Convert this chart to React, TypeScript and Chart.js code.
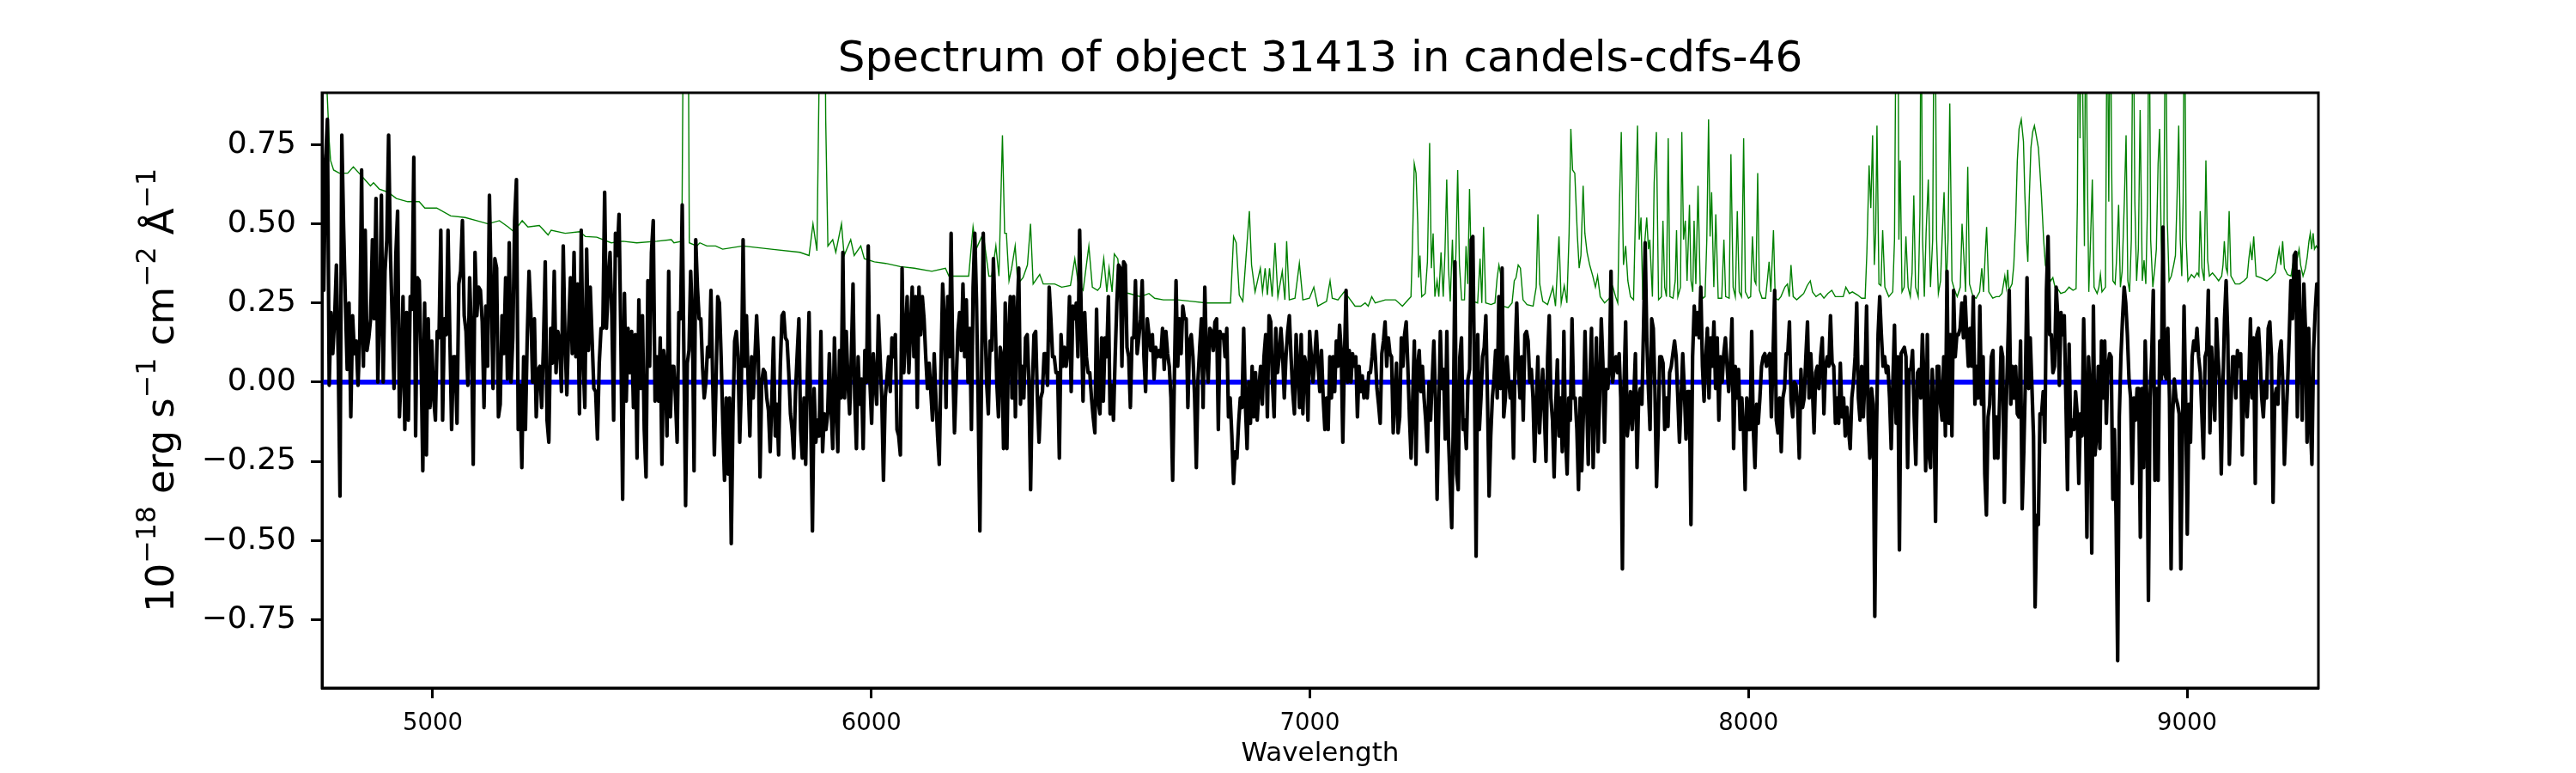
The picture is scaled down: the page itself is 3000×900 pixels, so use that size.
import React, { useEffect, useRef } from "react";
import { Chart, registerables } from "chart.js";

Chart.register(...registerables);

// ---------- text ----------
const TITLE = "Spectrum of object 31413 in candels-cdfs-46";
const X_LABEL = "Wavelength";
// [text, isSuperscript]
const Y_LABEL_PARTS: [string, boolean][] = [
  ["10", false], ["\u221218", true], [" erg s", false], ["\u22121", true],
  [" cm", false], ["\u22122", true], [" \u00C5", false], ["\u22121", true],
];

// ---------- axes ----------
const X_MIN = 4747.5;
const X_MAX = 9299.5;
const Y_MIN = -0.966;
const Y_MAX = 0.914;
const X_TICKS = [5000, 6000, 7000, 8000, 9000];
const Y_TICKS = [-0.75, -0.5, -0.25, 0, 0.25, 0.5, 0.75];

// ---------- observed flux (black), uniformly sampled within each wavelength segment ----------
const SEGMENT_EDGES = [4747.5, 5511, 6274.5, 7038, 7801.5, 8565, 9299.5];

const FLUX_1 = [
  0.72, 0.29, 0.70, 0.83, -0.01, 0.22, 0.09, 0.20, 0.37, 0.08,
  -0.36, 0.78, 0.49, 0.25, 0.04, 0.25, -0.11, 0.21, 0.09, 0.13,
  -0.01, 0.14, 0.67, 0.05, 0.48, 0.10, 0.14, 0.20, 0.45, 0.20,
  0.58, 0.00, 0.20, 0.59, 0.00, 0.35, 0.45, 0.78, 0.41, 0.20,
  -0.02, 0.40, 0.54, -0.11, 0.03, 0.27, -0.15, 0.22, -0.12, 0.27,
  0.23, 0.71, -0.17, 0.33, 0.32, 0.08, -0.28, 0.25, -0.23, 0.20,
  -0.08, 0.13, -0.05, -0.12, 0.16, 0.14, 0.48, -0.12, 0.20, 0.15,
  0.48, 0.15, -0.15, 0.08, 0.08, -0.13, 0.31, 0.35, 0.51, 0.21,
  0.16, -0.01, 0.33, 0.15, -0.26, 0.41, 0.21, 0.30, 0.29, 0.19,
  -0.08, 0.24, 0.05, 0.59, 0.30, -0.02, 0.39, 0.36, -0.11, -0.07,
  0.21, 0.09, 0.33, 0.01, 0.44, 0.00, 0.14, 0.51, 0.64, -0.15,
  -0.01, -0.27, 0.08, -0.15, 0.14, 0.35, 0.22, 0.00, 0.20, -0.11,
  0.04, 0.05, -0.08, 0.11, 0.38, -0.12, -0.19, 0.17, 0.06, 0.35,
  0.03, 0.16, 0.13, -0.03, 0.43, 0.13, -0.04, 0.17, 0.33, 0.09,
  0.41, 0.08, 0.31, -0.10, 0.48, 0.08, -0.08, 0.42, 0.10, 0.30,
  0.14, -0.02, -0.03, -0.18, 0.06, 0.17, 0.17, 0.60, 0.17, 0.31,
  0.41, 0.21, -0.12, 0.47, 0.40, 0.53, 0.14, -0.37, 0.28, -0.06,
  0.17, 0.03, 0.16, -0.08, 0.15, -0.24, 0.26, -0.02, 0.21, -0.15,
  -0.30, 0.32, 0.05, 0.41, 0.51, -0.06,
];

const FLUX_2 = [
  0.08, -0.06, 0.14, -0.26, 0.10, 0.05, -0.17, 0.35, -0.11, 0.05,
  0.05, -0.05, -0.19, 0.22, 0.20, 0.56, 0.08, -0.39, 0.06, 0.10,
  0.35, 0.20, -0.28, 0.45, 0.30, 0.20, 0.20, 0.05, -0.05, 0.00,
  0.11, 0.08, 0.29, 0.01, -0.23, 0.00, 0.27, 0.25, 0.08, -0.13,
  -0.31, -0.05, -0.29, -0.05, -0.51, -0.11, 0.13, 0.16, 0.08, -0.19,
  0.00, 0.45, 0.05, 0.21, 0.00, -0.17, 0.08, -0.05, 0.08, 0.21,
  0.08, -0.30, 0.00, 0.04, 0.03, -0.05, -0.09, -0.22, -0.05, 0.14,
  -0.17, -0.07, -0.23, 0.05, 0.21, 0.22, 0.14, 0.13, 0.03, -0.10,
  -0.15, -0.24, -0.03, 0.09, 0.20, -0.15, -0.24, -0.05, -0.26, 0.03,
  0.22, -0.11, -0.47, -0.02, -0.19, -0.12, -0.17, 0.16, -0.22, -0.10,
  -0.15, -0.10, 0.09, -0.08, -0.21, 0.14, -0.07, -0.22, 0.10, -0.05,
  0.41, -0.05, 0.16, 0.00, -0.10, 0.08, 0.31, -0.05, -0.21, 0.08,
  -0.07, 0.01, -0.21, 0.10, 0.00, 0.43, 0.00, -0.13, 0.09, 0.00,
  -0.07, 0.21, 0.08, -0.05, -0.31, -0.05, 0.01, 0.08, -0.03, 0.14,
  0.08, 0.15, -0.15, -0.17, -0.23, 0.36, 0.03, 0.14, 0.27, 0.03,
  0.17, 0.30, 0.08, 0.27, -0.08, 0.30, 0.15, 0.27, 0.20, 0.08,
  -0.02, 0.06, -0.03, -0.12, 0.09, -0.05, -0.17, -0.26, 0.05, 0.31,
  0.20, -0.08, 0.27, 0.08, 0.47, 0.05, -0.16, 0.00, 0.16, 0.22,
  0.10, 0.31, 0.08, 0.26, 0.00, 0.17, -0.15, 0.30, 0.47, 0.26,
  -0.07, -0.47, 0.03, 0.47, 0.20, 0.00, -0.10, 0.13,
];

const FLUX_3 = [
  0.10, 0.39, 0.21, 0.00, -0.11, 0.11, 0.08, -0.21, 0.25, -0.21,
  0.15, 0.27, -0.05, 0.27, -0.11, 0.20, 0.36, -0.07, 0.05, -0.05,
  0.14, 0.15, 0.00, -0.34, -0.02, 0.15, 0.16, -0.05, -0.19, -0.05,
  -0.03, 0.09, 0.09, -0.01, 0.30, 0.20, 0.08, 0.08, 0.03, 0.03,
  -0.24, 0.15, 0.05, 0.11, 0.05, 0.10, 0.27, -0.03, 0.24, 0.20,
  0.25, 0.08, 0.48, 0.20, -0.06, 0.22, 0.08, 0.03, 0.03, -0.05,
  -0.11, -0.16, 0.23, -0.06, -0.10, 0.14, -0.06, 0.14, 0.08, 0.27,
  -0.10, -0.01, -0.12, 0.08, 0.25, 0.37, 0.36, 0.05, 0.38, 0.37,
  0.11, 0.08, -0.08, 0.14, 0.14, 0.32, 0.09, 0.14, 0.20, 0.32,
  0.08, -0.03, 0.20, 0.15, 0.10, 0.15, 0.01, 0.11, 0.08, 0.10,
  0.08, 0.17, 0.04, 0.16, 0.09, 0.05, -0.05, -0.31, 0.01, 0.32,
  0.05, 0.20, 0.09, 0.24, 0.20, 0.20, -0.08, 0.13, 0.15, 0.08,
  -0.05, -0.27, 0.01, 0.11, 0.20, -0.08, 0.30, 0.08, 0.00, 0.17,
  0.16, 0.10, 0.19, 0.20, -0.15, 0.16, 0.14, 0.15, 0.08, 0.17,
  -0.11, -0.05, -0.17, -0.32, -0.22, -0.24, -0.13, -0.05, -0.08, 0.17,
  -0.07, -0.21, 0.00, -0.13, 0.05, -0.11, 0.03, -0.12, -0.02, 0.05,
  -0.07, 0.08, 0.15, -0.11, 0.21, 0.19, 0.00, -0.11, 0.17, 0.03,
  0.08, 0.17, 0.09, -0.05, 0.08, 0.16, 0.21, 0.08, -0.03, -0.10,
  0.15, 0.04, -0.08, 0.15, -0.10, 0.08, 0.05, -0.12, 0.16, 0.08,
  0.00, 0.08, 0.16, 0.05, -0.03, 0.10, -0.05, -0.15,
];

const FLUX_4 = [
  -0.05, -0.15, 0.08, -0.05, 0.08, -0.03, 0.13, 0.05, 0.18, 0.10,
  -0.19, 0.08, 0.29, 0.00, 0.10, 0.00, 0.09, 0.05, 0.08, -0.11,
  0.05, -0.03, 0.02, -0.05, 0.00, -0.05, 0.03, 0.03, 0.08, 0.15,
  0.08, -0.02, -0.07, -0.13, 0.09, 0.13, 0.19, 0.05, 0.14, 0.09,
  0.08, -0.16, -0.05, 0.06, -0.16, -0.11, 0.14, 0.05, 0.15, 0.19,
  0.05, -0.11, -0.24, -0.05, 0.13, -0.26, 0.05, 0.10, -0.03, 0.05,
  -0.05, -0.12, -0.22, 0.00, -0.12, 0.01, 0.13, -0.05, -0.37, -0.11,
  0.16, -0.02, 0.04, -0.18, 0.16, -0.17, -0.32, -0.46, -0.12, 0.38,
  -0.29, -0.34, 0.08, 0.14, -0.15, -0.12, -0.21, 0.01, 0.04, 0.45,
  0.46, 0.01, -0.55, 0.15, -0.15, -0.05, 0.08, 0.11, 0.21, -0.05,
  -0.36, -0.17, -0.05, 0.01, 0.10, -0.05, 0.27, -0.02, 0.36, -0.11,
  -0.05, 0.08, 0.01, -0.05, 0.00, -0.24, 0.08, 0.25, 0.05, -0.05,
  0.08, -0.12, 0.15, 0.16, 0.13, 0.00, 0.04, -0.05, -0.25, -0.07,
  0.08, -0.16, -0.05, 0.04, -0.10, -0.25, 0.08, 0.21, -0.05, -0.12,
  -0.30, -0.07, 0.07, -0.17, -0.05, -0.22, 0.16, -0.17, -0.29, -0.05,
  -0.12, 0.20, -0.05, -0.05, -0.15, -0.34, -0.05, -0.28, -0.10, 0.16,
  -0.05, -0.26, 0.00, 0.17, -0.27, -0.05, 0.14, -0.22, -0.05, 0.20,
  0.06, -0.19, 0.04, -0.02, 0.04, 0.35, 0.00, 0.05, 0.08, 0.03,
  0.09, -0.05, -0.59, -0.01, 0.19, -0.17, -0.11, -0.03, -0.15, -0.05,
  0.09, -0.27, -0.05, -0.02, -0.07, 0.17, 0.44, 0.14, -0.02, -0.15,
  0.20, 0.17, -0.02, -0.33, -0.15, 0.08,
];

const FLUX_5 = [
  0.08, 0.06, -0.15, -0.05, -0.14, 0.03, 0.05, 0.09, 0.13, 0.08,
  -0.05, -0.19, -0.05, 0.09, -0.03, -0.18, -0.03, -0.03, -0.45, 0.08,
  0.24, 0.15, 0.22, 0.14, 0.30, 0.05, -0.06, 0.08, 0.17, -0.05,
  0.14, 0.05, 0.19, -0.02, 0.14, -0.12, 0.08, 0.00, 0.09, 0.14,
  0.05, -0.03, 0.05, 0.20, -0.21, 0.05, -0.05, 0.04, -0.15, -0.05,
  -0.15, -0.34, -0.05, -0.15, -0.15, 0.16, -0.15, -0.27, -0.07, -0.13,
  -0.05, 0.05, 0.08, 0.09, 0.05, 0.08, 0.09, -0.11, 0.08, 0.29,
  -0.12, -0.16, -0.05, -0.22, -0.05, -0.02, 0.09, 0.09, 0.19, -0.06,
  -0.11, 0.00, -0.01, -0.08, -0.24, 0.04, -0.08, -0.05, 0.08, 0.19,
  -0.05, 0.09, -0.02, -0.16, 0.03, 0.05, -0.02, 0.08, 0.14, -0.10,
  0.05, 0.08, 0.05, 0.21, 0.06, 0.05, -0.13, -0.05, -0.13, 0.06,
  -0.11, -0.05, -0.17, -0.08, -0.15, -0.21, -0.05, 0.00, 0.08, 0.25,
  -0.05, -0.12, 0.05, -0.11, 0.01, 0.24, -0.12, -0.24, -0.02, -0.07,
  -0.74, -0.17, 0.15, 0.27, 0.15, 0.05, 0.08, 0.03, 0.05, -0.05,
  -0.21, 0.00, 0.18, -0.13, 0.08, -0.53, 0.09, 0.10, 0.11, 0.08,
  -0.27, 0.04, 0.04, 0.10, -0.11, -0.26, 0.03, 0.04, -0.05, 0.15,
  0.00, -0.28, 0.15, -0.23, -0.27, 0.04, -0.07, -0.44, 0.05, 0.05,
  -0.07, -0.12, 0.08, -0.17, 0.35, -0.13, 0.15, -0.17, 0.29, 0.08,
  0.15, 0.15, 0.17, 0.25, 0.14, 0.27, 0.15, 0.05, 0.17, 0.05,
  0.27, -0.07, 0.05, -0.05, 0.24, -0.07, 0.08, -0.29, -0.42, -0.11,
  -0.07, 0.08, 0.10, -0.24,
];

const FLUX_6 = [
  -0.11, -0.24, -0.07, 0.11, 0.08, -0.38, -0.10, 0.08, 0.29, -0.07,
  0.05, -0.05, 0.05, -0.10, -0.11, 0.13, -0.40, -0.22, 0.01, 0.33,
  -0.02, 0.14, -0.01, -0.17, -0.71, -0.42, -0.45, -0.10, -0.10, -0.03,
  -0.19, 0.29, 0.46, 0.15, 0.15, 0.03, 0.05, 0.30, 0.21, -0.01,
  0.22, 0.15, 0.21, -0.05, -0.34, 0.12, -0.17, -0.12, -0.15, -0.03,
  -0.10, -0.32, -0.10, -0.17, 0.20, -0.05, -0.49, 0.08, -0.03, -0.54,
  0.24, -0.23, -0.17, 0.05, -0.21, 0.13, -0.05, 0.13, -0.13, 0.05,
  0.09, 0.08, -0.37, -0.15, -0.42, -0.88, -0.11, 0.08, 0.20, 0.30,
  0.25, 0.15, 0.01, -0.05, -0.32, -0.05, -0.12, -0.02, -0.02, -0.49,
  -0.02, -0.27, 0.13, -0.06, -0.69, -0.05, 0.08, 0.29, -0.31, -0.02,
  -0.31, 0.13, 0.01, 0.49, 0.03, 0.01, 0.17, -0.05, -0.59, -0.10,
  0.01, -0.05, -0.07, -0.10, -0.59, -0.17, 0.24, -0.05, -0.48, -0.07,
  -0.19, 0.08, 0.13, 0.10, 0.17, 0.08, 0.03, -0.10, -0.24, 0.08,
  0.10, 0.29, -0.16, 0.11, -0.02, -0.12, 0.20, 0.08, 0.00, -0.29,
  -0.02, 0.20, 0.32, 0.15, -0.26, -0.07, 0.08, 0.08, -0.05, 0.10,
  0.05, 0.09, -0.23, 0.00, 0.00, -0.11, 0.00, 0.20, -0.05, 0.14,
  -0.32, 0.15, 0.17, 0.08, -0.05, -0.11, 0.00, -0.05, 0.17, 0.19,
  0.08, -0.38, -0.05, -0.02, -0.07, 0.09, 0.13, 0.00, -0.26, -0.12,
  0.00, 0.15, 0.32, 0.20, 0.40, 0.41, -0.11, 0.35, 0.14, -0.12,
  0.31, 0.17, -0.19, 0.17, -0.12, -0.26, 0.10, 0.22, 0.31, 0.24,
];

const FLUX_SEGMENTS = [FLUX_1, FLUX_2, FLUX_3, FLUX_4, FLUX_5, FLUX_6];

// ---------- noise / sky spectrum (green): [wavelength, value] ----------
const SKY_1: [number, number][] = [
  [4747.5, 1.5], [4754, 1.2], [4759, 0.92], [4764, 0.76], [4767, 0.70], [4774, 0.67],
  [4787, 0.66], [4806, 0.66], [4819, 0.68], [4832, 0.66], [4845, 0.64], [4858, 0.62],
  [4865, 0.63], [4878, 0.61], [4898, 0.60], [4917, 0.58], [4943, 0.57], [4969, 0.57],
  [4982, 0.55], [5009, 0.55], [5041, 0.525], [5074, 0.52], [5100, 0.51], [5126, 0.50],
  [5152, 0.51], [5172, 0.49], [5185, 0.475], [5204, 0.51], [5217, 0.49], [5243, 0.495],
  [5263, 0.465], [5270, 0.48], [5302, 0.47], [5335, 0.475], [5348, 0.46], [5374, 0.458],
  [5407, 0.44], [5433, 0.445], [5465, 0.44], [5511, 0.445],
];
const SKY_2: [number, number][] = [
  [5544, 0.45], [5550, 0.44], [5568, 0.445], [5573, 1.5], [5581.5, 1.5], [5585, 0.44],
  [5602, 0.43], [5609, 0.44], [5625, 0.43], [5645, 0.43], [5661, 0.42], [5707, 0.43],
  [5772, 0.42], [5837, 0.41], [5858, 0.40], [5867, 0.50], [5876, 0.415], [5886, 1.5],
  [5893, 1.5], [5896, 0.83], [5901, 0.43], [5912, 0.45], [5919, 0.41], [5932, 0.50],
  [5938, 0.40], [5953, 0.45], [5961, 0.40], [5976, 0.43], [5984, 0.39], [6007, 0.38],
  [6033, 0.375], [6066, 0.365], [6098, 0.36], [6138, 0.35], [6169, 0.36], [6177, 0.335],
  [6203, 0.335], [6222, 0.335], [6232, 0.49], [6239, 0.42], [6255, 0.47], [6268, 0.335],
];
const SKY_3: [number, number][] = [
  [6274.5, 0.335], [6284, 0.43], [6291, 0.335], [6299, 0.78], [6304, 0.47], [6308, 0.47],
  [6314, 0.32], [6320, 0.36], [6328, 0.43], [6334, 0.31], [6346, 0.33], [6356, 0.37],
  [6363, 0.50], [6369, 0.31], [6384, 0.34], [6392, 0.31], [6418, 0.31], [6434, 0.30],
  [6454, 0.305], [6464, 0.39], [6472, 0.31], [6483, 0.29], [6496, 0.43], [6504, 0.30],
  [6516, 0.29], [6522, 0.30], [6530, 0.39], [6537, 0.285], [6542, 0.36], [6549, 0.285],
  [6554, 0.405], [6562, 0.39], [6569.5, 0.285], [6588, 0.28], [6614, 0.27], [6633, 0.28],
  [6646, 0.265], [6666, 0.26], [6699, 0.26], [6731, 0.255], [6764, 0.25], [6797, 0.25],
  [6819, 0.25], [6826, 0.46], [6832, 0.44], [6839, 0.275], [6847, 0.255], [6862, 0.54],
  [6867, 0.37], [6875, 0.285], [6887, 0.36], [6892, 0.285], [6898, 0.36], [6903, 0.275],
  [6908, 0.36], [6914, 0.27], [6920.5, 0.44], [6927, 0.27], [6937, 0.35], [6943, 0.26],
  [6947, 0.445], [6953, 0.26], [6966, 0.265], [6976, 0.375], [6984, 0.26], [6999, 0.265],
  [7009, 0.30], [7018, 0.24], [7038, 0.255],
];
const SKY_4: [number, number][] = [
  [7046, 0.32], [7051, 0.265], [7064, 0.26], [7078, 0.285], [7087, 0.27], [7103, 0.24],
  [7116, 0.24], [7126, 0.25], [7133, 0.24], [7141, 0.27], [7149, 0.25], [7172, 0.26],
  [7195, 0.26], [7211, 0.24], [7224, 0.26], [7230.5, 0.27], [7234, 0.44], [7238, 0.69],
  [7242, 0.66], [7246, 0.50], [7248, 0.33], [7251, 0.40], [7255, 0.27], [7263, 0.28],
  [7268, 0.38], [7273, 0.755], [7277, 0.36], [7281, 0.47], [7285, 0.27], [7290, 0.32],
  [7294, 0.27], [7299, 0.41], [7304, 0.27], [7308, 0.41], [7312, 0.64], [7316, 0.36],
  [7320, 0.255], [7325, 0.45], [7329, 0.255], [7333, 0.41], [7337, 0.67], [7341, 0.37],
  [7346, 0.26], [7352.5, 0.26], [7356, 0.43], [7360, 0.31], [7364, 0.61], [7368, 0.36],
  [7373, 0.255], [7382.5, 0.25], [7388, 0.39], [7392, 0.25], [7396, 0.49], [7401, 0.25],
  [7413, 0.245], [7422, 0.25], [7427, 0.33], [7431, 0.37], [7435, 0.34], [7440, 0.24],
  [7452, 0.235], [7461, 0.25], [7466, 0.32], [7470, 0.33], [7475, 0.37], [7480, 0.36],
  [7486, 0.26], [7495, 0.245], [7509, 0.24], [7516, 0.30], [7520, 0.53], [7524, 0.31],
  [7531, 0.255], [7542, 0.245], [7554, 0.30], [7560, 0.24], [7568, 0.46], [7573, 0.25],
  [7580, 0.305], [7586, 0.25], [7591, 0.47], [7595, 0.80], [7599, 0.67], [7604, 0.66],
  [7610, 0.46], [7614, 0.36], [7618, 0.40], [7623, 0.62], [7627, 0.47], [7632, 0.41],
  [7638, 0.37], [7645, 0.335], [7651, 0.30], [7656, 0.335], [7662, 0.27], [7672, 0.25],
  [7683, 0.265], [7691, 0.30], [7697, 0.27], [7702, 0.25], [7706, 0.57], [7710, 0.79],
  [7715, 0.37], [7720, 0.43], [7725, 0.32], [7731, 0.27], [7738, 0.26], [7743, 0.57],
  [7747, 0.81], [7751, 0.45], [7755, 0.52], [7759, 0.26], [7764, 0.45], [7768, 0.52],
  [7772, 0.42], [7775, 0.45], [7781, 0.27], [7785, 0.63], [7790, 0.79], [7795, 0.26],
];
const SKY_5: [number, number][] = [
  [7801.5, 0.27], [7805, 0.51], [7809, 0.30], [7813, 0.27], [7817, 0.77], [7821, 0.27],
  [7828, 0.265], [7833, 0.32], [7836, 0.48], [7839, 0.27], [7845, 0.30], [7848, 0.79],
  [7852, 0.45], [7856, 0.51], [7860, 0.32], [7865.5, 0.56], [7869, 0.32], [7873, 0.285],
  [7876, 0.51], [7880, 0.31], [7885, 0.62], [7890, 0.30], [7896, 0.265], [7901, 0.27],
  [7905, 0.45], [7909, 0.83], [7912.5, 0.46], [7916, 0.60], [7921, 0.30], [7925.5, 0.53],
  [7931, 0.265], [7939, 0.265], [7944, 0.45], [7948, 0.27], [7956, 0.265], [7960, 0.72],
  [7965, 0.30], [7970, 0.27], [7974.5, 0.54], [7979, 0.285], [7984, 0.27], [7989, 0.77],
  [7993, 0.285], [8000, 0.265], [8005, 0.27], [8009, 0.46], [8014, 0.32], [8017, 0.31],
  [8021, 0.66], [8025, 0.29], [8031, 0.265], [8039, 0.265], [8043, 0.32], [8047, 0.38],
  [8051, 0.285], [8057, 0.48], [8061, 0.265], [8068, 0.26], [8074, 0.27], [8083, 0.30],
  [8089, 0.31], [8093, 0.27], [8097, 0.37], [8102, 0.27], [8110, 0.26], [8118, 0.27],
  [8126, 0.28], [8134, 0.305], [8141, 0.32], [8146, 0.285], [8154, 0.27], [8164, 0.28],
  [8172, 0.265], [8181, 0.28], [8190, 0.29], [8198, 0.27], [8207, 0.27], [8216, 0.27],
  [8222, 0.30], [8230, 0.28], [8237, 0.285], [8249, 0.275], [8258, 0.265], [8266, 0.265],
  [8270, 0.41], [8275, 0.685], [8279, 0.55], [8283, 0.78], [8287, 0.37], [8290, 0.47],
  [8293, 0.81], [8297.5, 0.31], [8302, 0.305], [8306, 0.48], [8311, 0.30], [8320, 0.27],
  [8329, 0.285], [8333, 0.45], [8337, 1.3], [8341, 1.2], [8343, 0.45], [8346, 0.70],
  [8350, 0.285], [8355, 0.30], [8359, 0.46], [8364, 0.30], [8369, 0.27], [8373, 0.345],
  [8377, 0.59], [8381, 0.30], [8387, 0.27], [8391, 0.53], [8393.5, 1.3], [8397, 0.45],
  [8401, 0.27], [8405, 0.47], [8410, 0.64], [8415, 0.30], [8420, 0.45], [8423.5, 1.3],
  [8427, 0.90], [8429, 0.45], [8433, 0.28], [8438, 0.32], [8442, 0.47], [8446, 0.60],
  [8451, 0.30], [8455, 0.45], [8459, 0.88], [8464, 0.32], [8470, 0.29], [8476, 0.27],
  [8483, 0.30], [8487, 0.50], [8491, 0.40], [8495, 0.285], [8500, 0.68], [8504, 0.31],
  [8512, 0.27], [8519, 0.265], [8527, 0.285], [8532, 0.36], [8536, 0.285], [8540, 0.41],
  [8543, 0.49], [8548, 0.285], [8557, 0.265], [8565, 0.27],
];
const SKY_6: [number, number][] = [
  [8571.5, 0.27], [8578, 0.28], [8584.5, 0.335], [8588, 0.30], [8591, 0.355], [8594, 0.29],
  [8601, 0.31], [8605, 0.37], [8609, 0.50], [8613, 0.70], [8617, 0.80], [8622, 0.83],
  [8627, 0.76], [8630, 0.60], [8634, 0.45], [8637, 0.38], [8640, 0.57], [8644, 0.74],
  [8648, 0.79], [8652, 0.81], [8656, 0.78], [8661, 0.74], [8664, 0.68], [8668, 0.59],
  [8673, 0.45], [8677, 0.37], [8682, 0.345], [8689, 0.32], [8694, 0.33], [8699, 0.30],
  [8705, 0.295], [8712, 0.28], [8722, 0.285], [8731, 0.30], [8740, 0.29], [8747, 0.295],
  [8750, 0.57], [8753, 1.3], [8756, 0.77], [8759, 1.3], [8763, 0.81], [8766, 0.43],
  [8769, 1.3], [8772.5, 0.69], [8776, 0.285], [8780, 0.45], [8784, 0.64], [8788, 0.30],
  [8795, 0.28], [8799, 0.30], [8802.5, 0.34], [8806, 0.285], [8814, 0.30], [8818, 1.3],
  [8821.5, 0.57], [8825, 1.3], [8828, 0.69], [8831, 0.32], [8836, 0.31], [8839, 0.38],
  [8844, 0.56], [8848, 0.30], [8852, 0.35], [8857, 0.57], [8861, 0.78], [8865, 0.32],
  [8869, 0.285], [8873, 0.45], [8877, 1.3], [8881, 0.57], [8885, 0.32], [8889, 0.42],
  [8893, 0.86], [8898, 0.32], [8902, 0.385], [8906, 0.31], [8910, 0.57], [8913.5, 1.3],
  [8917, 0.45], [8922, 0.30], [8926.5, 0.36], [8930, 0.42], [8934, 0.69], [8937.5, 0.80],
  [8941, 0.45], [8944, 0.335], [8947, 0.45], [8951, 1.3], [8955, 0.51], [8959, 0.32],
  [8964, 0.335], [8969.5, 0.37], [8973.5, 0.40], [8977, 0.57], [8981, 0.81], [8984.5, 0.45],
  [8988, 0.335], [8991, 0.57], [8994, 1.3], [8998, 0.45], [9002, 0.32], [9010, 0.34],
  [9016.5, 0.33], [9023, 0.345], [9027, 0.335], [9030, 0.54], [9034, 0.36], [9039, 0.32],
  [9043, 0.70], [9047, 0.385], [9051, 0.335], [9058, 0.345], [9064, 0.335], [9072, 0.32],
  [9079, 0.335], [9082, 0.37], [9085, 0.445], [9089, 0.36], [9092, 0.345], [9096, 0.54],
  [9100, 0.335], [9110, 0.31], [9120, 0.31], [9129.5, 0.32], [9137, 0.33], [9141, 0.39],
  [9144.5, 0.43], [9148, 0.385], [9152, 0.46], [9157.5, 0.335], [9168.5, 0.33], [9182, 0.32],
  [9191.5, 0.33], [9201, 0.345], [9206, 0.385], [9210, 0.42], [9214, 0.37], [9218, 0.445],
  [9222, 0.36], [9229, 0.34], [9237, 0.335], [9244, 0.395], [9248, 0.37], [9252, 0.395],
  [9255.5, 0.42], [9259, 0.37], [9264.5, 0.335], [9270, 0.36], [9274, 0.395], [9278, 0.445],
  [9281, 0.47], [9284, 0.42], [9287.5, 0.47], [9290.5, 0.42], [9294.5, 0.43], [9299.5, 0.42],
];
const SKY_SEGMENTS = [SKY_1, SKY_2, SKY_3, SKY_4, SKY_5, SKY_6];

// ---------- model (blue) ----------
const MODEL: [number, number][] = [[4747.5, 0], [9299.5, 0]];

const FONT = "'DejaVu Sans', 'Liberation Sans', sans-serif";

function buildFluxPoints() {
  const pts: { x: number; y: number }[] = [];
  const last = FLUX_SEGMENTS.length - 1;
  FLUX_SEGMENTS.forEach((seg, k) => {
    const a = SEGMENT_EDGES[k];
    const b = SEGMENT_EDGES[k + 1];
    const n = seg.length;
    const denom = k === last ? n - 1 : n;
    seg.forEach((v, i) => pts.push({ x: a + ((b - a) * i) / denom, y: v }));
  });
  return pts;
}

const fmtY = (v: number) => {
  const s = Math.abs(v).toFixed(2);
  return v < 0 ? "\u2212" + s : s;
};

const decorPlugin = {
  id: "decor",
  afterDraw(chart: any) {
    const { ctx, chartArea } = chart;
    const { left, top, right, bottom } = chartArea;
    ctx.save();
    // frame (all four spines)
    ctx.strokeStyle = "#000";
    ctx.lineWidth = 3;
    ctx.strokeRect(left, top, right - left, bottom - top);
    ctx.fillStyle = "#000";
    // title
    ctx.textAlign = "center";
    ctx.textBaseline = "alphabetic";
    ctx.font = `50px ${FONT}`;
    ctx.fillText(TITLE, (left + right) / 2, top - 25);
    // x label
    ctx.font = `31px ${FONT}`;
    ctx.fillText(X_LABEL, (left + right) / 2, bottom + 85);
    // y label (rotated, with superscripts)
    const big = 45;
    const small = 31.5;
    let total = 0;
    const widths = Y_LABEL_PARTS.map(([t, sup]) => {
      ctx.font = `${sup ? small : big}px ${FONT}`;
      const w = ctx.measureText(t).width;
      total += w;
      return w;
    });
    ctx.translate(left - 173, (top + bottom) / 2);
    ctx.rotate(-Math.PI / 2);
    ctx.textAlign = "left";
    let x = -total / 2;
    Y_LABEL_PARTS.forEach(([t, sup], i) => {
      ctx.font = `${sup ? small : big}px ${FONT}`;
      ctx.fillText(t, x, sup ? -21 : 0);
      x += widths[i];
    });
    ctx.restore();
  },
};

export default function App() {
  const canvasRef = useRef<HTMLCanvasElement | null>(null);

  useEffect(() => {
    const canvas = canvasRef.current;
    if (!canvas) return;
    const fluxPts = buildFluxPoints();
    const skyPts = SKY_SEGMENTS.flat().map(([x, y]) => ({ x, y }));
    const modelPts = MODEL.map(([x, y]) => ({ x, y }));

    const chart = new Chart(canvas, {
      type: "line",
      data: {
        datasets: [
          {
            label: "flux",
            data: fluxPts,
            borderColor: "#000000",
            borderWidth: 4.2,
            pointRadius: 0,
            tension: 0,
            fill: false,
            clip: 0,
            borderJoinStyle: "round",
          },
          {
            label: "noise",
            data: skyPts,
            borderColor: "#008000",
            borderWidth: 1.4,
            pointRadius: 0,
            tension: 0,
            fill: false,
            clip: 0,
          },
          {
            label: "model",
            data: modelPts,
            borderColor: "#0000ff",
            borderWidth: 5.6,
            pointRadius: 0,
            tension: 0,
            fill: false,
            clip: 0,
          },
        ],
      },
      options: {
        animation: false,
        responsive: false,
        devicePixelRatio: 1,
        events: [],
        layout: { padding: { left: 0, right: 300, top: 108, bottom: 0 } },
        plugins: {
          legend: { display: false },
          title: { display: false },
          tooltip: { enabled: false },
        },
        scales: {
          x: {
            type: "linear",
            min: X_MIN,
            max: X_MAX,
            afterFit: (s: any) => {
              s.height = 99;
            },
            afterBuildTicks: (s: any) => {
              s.ticks = X_TICKS.map((v) => ({ value: v }));
            },
            ticks: {
              color: "#000",
              font: { family: FONT, size: 27.5, lineHeight: 1.2 },
              padding: 13,
              maxRotation: 0,
              autoSkip: false,
              callback: (v: any) => String(v),
            },
            grid: {
              display: true,
              drawOnChartArea: false,
              drawTicks: true,
              tickLength: 12,
              tickWidth: 3,
              tickColor: "#000",
            },
            border: { display: true, color: "#000", width: 3 },
          },
          y: {
            type: "linear",
            min: Y_MIN,
            max: Y_MAX,
            afterFit: (s: any) => {
              s.width = 375;
            },
            afterBuildTicks: (s: any) => {
              s.ticks = Y_TICKS.map((v) => ({ value: v }));
            },
            ticks: {
              color: "#000",
              font: { family: FONT, size: 36, lineHeight: 1.2 },
              padding: 17,
              autoSkip: false,
              callback: (v: any) => fmtY(Number(v)),
            },
            grid: {
              display: true,
              drawOnChartArea: false,
              drawTicks: true,
              tickLength: 13,
              tickWidth: 3,
              tickColor: "#000",
            },
            border: { display: true, color: "#000", width: 3 },
          },
        },
      } as any,
      plugins: [decorPlugin],
    });

    return () => {
      chart.destroy();
    };
  }, []);

  return (
    <div style={{ position: "absolute", left: 0, top: 0, width: 3000, height: 900, background: "#fff" }}>
      <canvas ref={canvasRef} width={3000} height={900} style={{ display: "block", width: 3000, height: 900 }} />
    </div>
  );
}
